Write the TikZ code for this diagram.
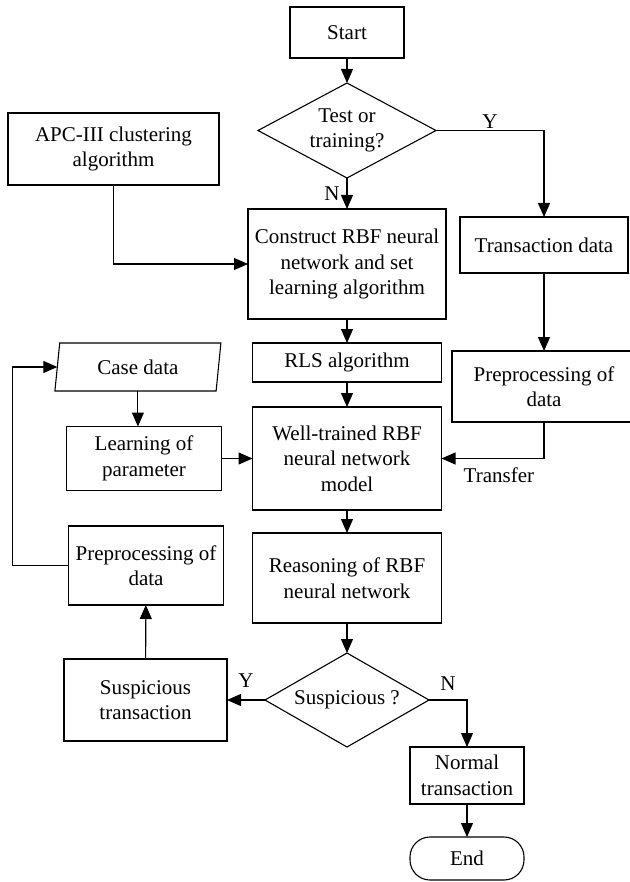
\documentclass[tikz,border=0pt]{standalone}
\usepackage{fontspec}
\setmainfont{Liberation Serif}
\usetikzlibrary{positioning,shapes.geometric,arrows.meta}

\begin{document}
\begin{tikzpicture}[
        x=1pt, y=1pt,
        every node/.style={font=\fontsize{21}{25.5}\selectfont, align=center},
        block/.style={draw, line width=1.1pt, rectangle, inner sep=0pt, outer sep=0pt},
        decision/.style={draw, line width=1.1pt, diamond, aspect=1.9, inner sep=0pt, outer sep=0pt},
        inputbox/.style={draw, line width=1.1pt, trapezium, trapezium left angle=72,
            trapezium right angle=108, trapezium stretches body, inner sep=0pt, outer sep=0pt},
        terminal/.style={draw, line width=1.1pt, rectangle, rounded corners=20pt, inner sep=0pt, outer sep=0pt},
        flow/.style={line width=1.1pt, -{Triangle[length=14pt,width=12pt]}},
        tag/.style={inner sep=1pt}
    ]
                    \useasboundingbox (0,0) rectangle (629,-882);

                    \node [block, minimum width=114pt, minimum height=51pt] (start) at (347,-32.5) {Start};
                    \node [decision, minimum width=178pt, minimum height=95pt, below=25pt of start] (test) {Test or\\training?};
                    \node [block, minimum width=198pt, minimum height=110pt, below=31pt of test] (construct) {Construct RBF neural\\network and set\\learning algorithm};
                    \node [block, minimum width=189pt, minimum height=39pt, below=24pt of construct] (rls) {RLS algorithm};
                    \node [block, minimum width=189pt, minimum height=103pt, below=25pt of rls] (welltrained) {Well-trained RBF\\neural network\\model};
                    \node [block, minimum width=189pt, minimum height=90pt, below=23pt of welltrained] (reasoning) {Reasoning of RBF\\neural network};
                    \node [decision, minimum width=164pt, minimum height=94pt, below=30pt of reasoning] (suspicious) {Suspicious ?};
                    \node [block, minimum width=114pt, minimum height=57pt, below=0pt of suspicious, xshift=120pt] (normal) {Normal\\transaction};
                    \node [terminal, minimum width=114pt, minimum height=43pt, below=33pt of normal] (finish) {End};

                    \node [block, minimum width=168pt, minimum height=56pt, right=14pt of construct, yshift=19pt] (transaction) {Transaction data};
                    \node [block, minimum width=184pt, minimum height=71pt, below=78pt of transaction] (prepright) {Preprocessing of\\data};

                    \node [block, minimum width=211pt, minimum height=72pt, left=39pt of test, yshift=-18.5pt] (apc) {APC-III clustering\\algorithm};
                    \node [inputbox, minimum width=166pt, minimum height=48pt, left=34pt of rls, yshift=-4.5pt] (casedata) {Case data};
                    \node [block, minimum width=155pt, minimum height=64pt, left=31pt of welltrained] (learning) {Learning of\\parameter};
                    \node [block, minimum width=155pt, minimum height=79pt, left=29pt of reasoning, yshift=12.5pt] (prepleft) {Preprocessing of\\data};
                    \node [block, minimum width=163pt, minimum height=82pt, left=38pt of suspicious] (susptrans) {Suspicious\\transaction};

                    \draw [flow] (start) -- (test);
                    \draw [flow] (test) -- node [tag, left=6pt] {N} (construct);
                    \draw [flow] (test) -| node [tag, above, pos=0.25] {Y} (transaction);
                    \draw [flow] (apc) |- (construct);
                    \draw [flow] (construct) -- (rls);
                    \draw [flow] (rls) -- (welltrained);
                    \draw [flow] (welltrained) -- (reasoning);
                    \draw [flow] (reasoning) -- (suspicious);
                    \draw [flow] (transaction) -- (prepright);
                    \draw [flow] (prepright) |- node [tag, below=8pt, pos=0.72] {Transfer} (welltrained);
                    \draw [flow] (casedata.south) -- (casedata.south |- learning.north);
                    \draw [flow] (learning) -- (welltrained);
                    \draw [flow] (prepleft.west) -- ++(-56,0) |- (casedata.west);
                    \draw [flow] (suspicious) -- node [tag, above=11pt] {Y} (susptrans);
                    \draw [flow] (suspicious) -| node [tag, above=8pt, pos=0.25] {N} (normal);
                    \draw [flow] (susptrans) -- (prepleft);
                    \draw [flow] (normal) -- (finish);
\end{tikzpicture}
\end{document}
